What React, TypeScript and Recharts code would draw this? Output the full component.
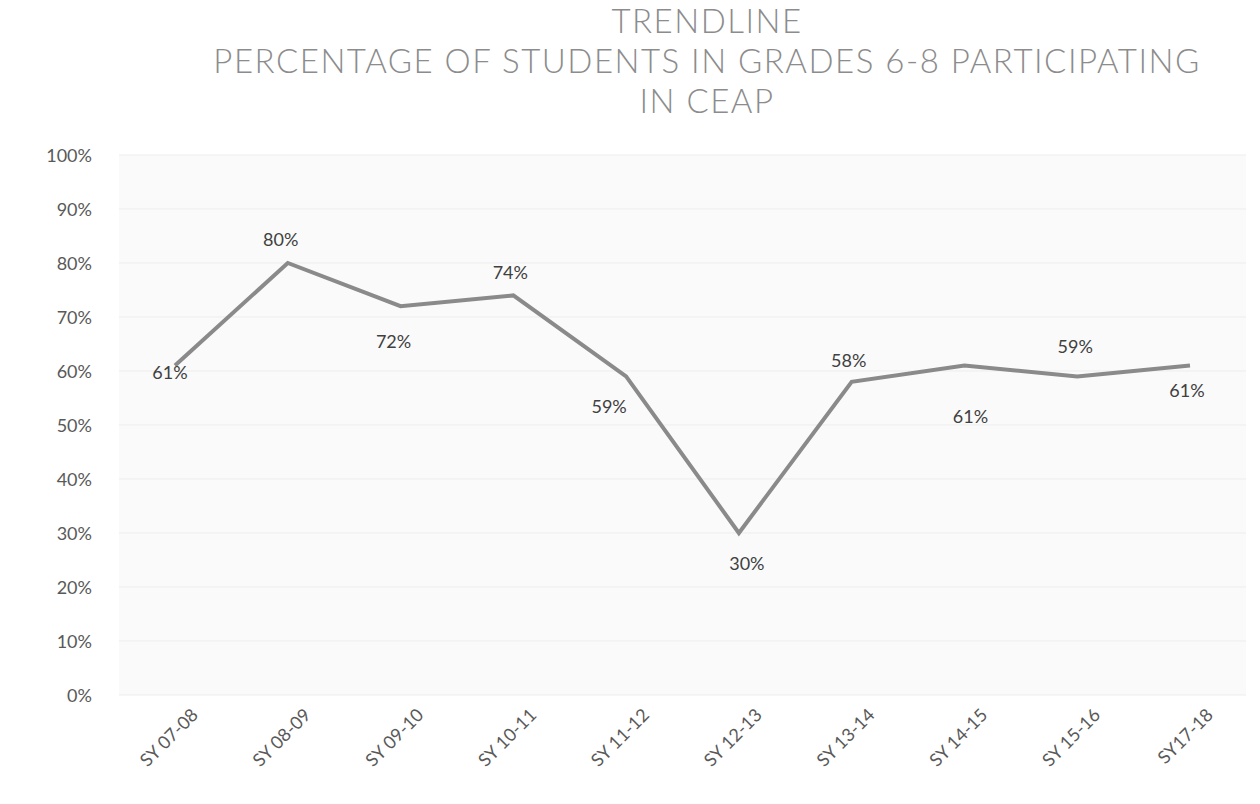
import { CartesianGrid, Line, LineChart, XAxis, YAxis, LabelList } from "recharts";

const years = [
  "SY 07-08",
  "SY 08-09",
  "SY 09-10",
  "SY 10-11",
  "SY 11-12",
  "SY 12-13",
  "SY 13-14",
  "SY 14-15",
  "SY 15-16",
  "SY17-18",
];
const participation = [61, 80, 72, 74, 59, 30, 58, 61, 59, 61];
const yTicks = [0, 10, 20, 30, 40, 50, 60, 70, 80, 90, 100];
const titleLines = [
  "TRENDLINE",
  "PERCENTAGE OF STUDENTS IN GRADES 6-8 PARTICIPATING",
  "IN CEAP",
];

// where each data label sits relative to its point (Excel-style placement)
const labelOffsets: [number, number][] = [
  [-5, 6],
  [-7, -24],
  [-7, 35],
  [-3, -23],
  [-17, 30],
  [8, 30],
  [-3, -22],
  [6, 50],
  [-2, -30],
  [-3, 24],
];

const data = years.map((year, i) => ({ year, value: participation[i] }));

const FONT = "Lato, 'Open Sans', sans-serif";

const YTick = (props: any) => {
  const { y, payload } = props;
  return (
    <text x={92} y={y} textAnchor="end" dominantBaseline="central" fill="#595959" fontSize={18} fontFamily={FONT}>
      {payload.value}%
    </text>
  );
};

const XTick = (props: any) => {
  const { x, payload } = props;
  return (
    <g transform={`translate(${x + 14},${706})`}>
      <text textAnchor="end" transform="rotate(-45)" fill="#595959" fontSize={18} fontFamily={FONT} dominantBaseline="hanging">
        {payload.value}
      </text>
    </g>
  );
};

const PointLabel = (props: any) => {
  const { x, y, index, value } = props;
  const [dx, dy] = labelOffsets[index] || [0, -20];
  return (
    <text x={x + dx} y={y + dy} textAnchor="middle" dominantBaseline="central" fill="#404040" fontSize={18} fontFamily={FONT}>
      {value}%
    </text>
  );
};

const App = () => {
  return (
    <div style={{ position: "absolute", left: 0, top: 0, width: 1260, height: 804, background: "#ffffff" }}>
      <div
        style={{
          position: "absolute",
          left: 0,
          top: 0,
          width: 1414,
          textAlign: "center",
          fontFamily: FONT,
          fontWeight: 300,
          fontSize: 33,
          letterSpacing: 1.5,
          lineHeight: "40px",
          color: "#8c8c8c",
        }}
      >
        {titleLines.map((t) => (
          <div key={t}>{t}</div>
        ))}
      </div>
      <LineChart
        width={1260}
        height={804}
        data={data}
        margin={{ top: 155, right: 14, bottom: 0, left: 0 }}
        style={{ position: "absolute", left: 0, top: 0 }}
      >
        <CartesianGrid vertical={false} stroke="#ededed" fill="#fafafa" />
        <XAxis
          dataKey="year"
          axisLine={false}
          tickLine={false}
          interval={0}
          tick={<XTick />}
          height={109}
          padding={{ left: 56, right: 56 }}
        />
        <YAxis
          domain={[0, 100]}
          ticks={yTicks}
          axisLine={false}
          tickLine={false}
          width={119}
          tick={<YTick />}
        />
        <Line
          type="linear"
          dataKey="value"
          stroke="#8a8a8a"
          strokeWidth={4}
          dot={false}
          activeDot={false}
          isAnimationActive={false}
        >
          <LabelList dataKey="value" content={<PointLabel />} />
        </Line>
      </LineChart>
    </div>
  );
};

export default App;
